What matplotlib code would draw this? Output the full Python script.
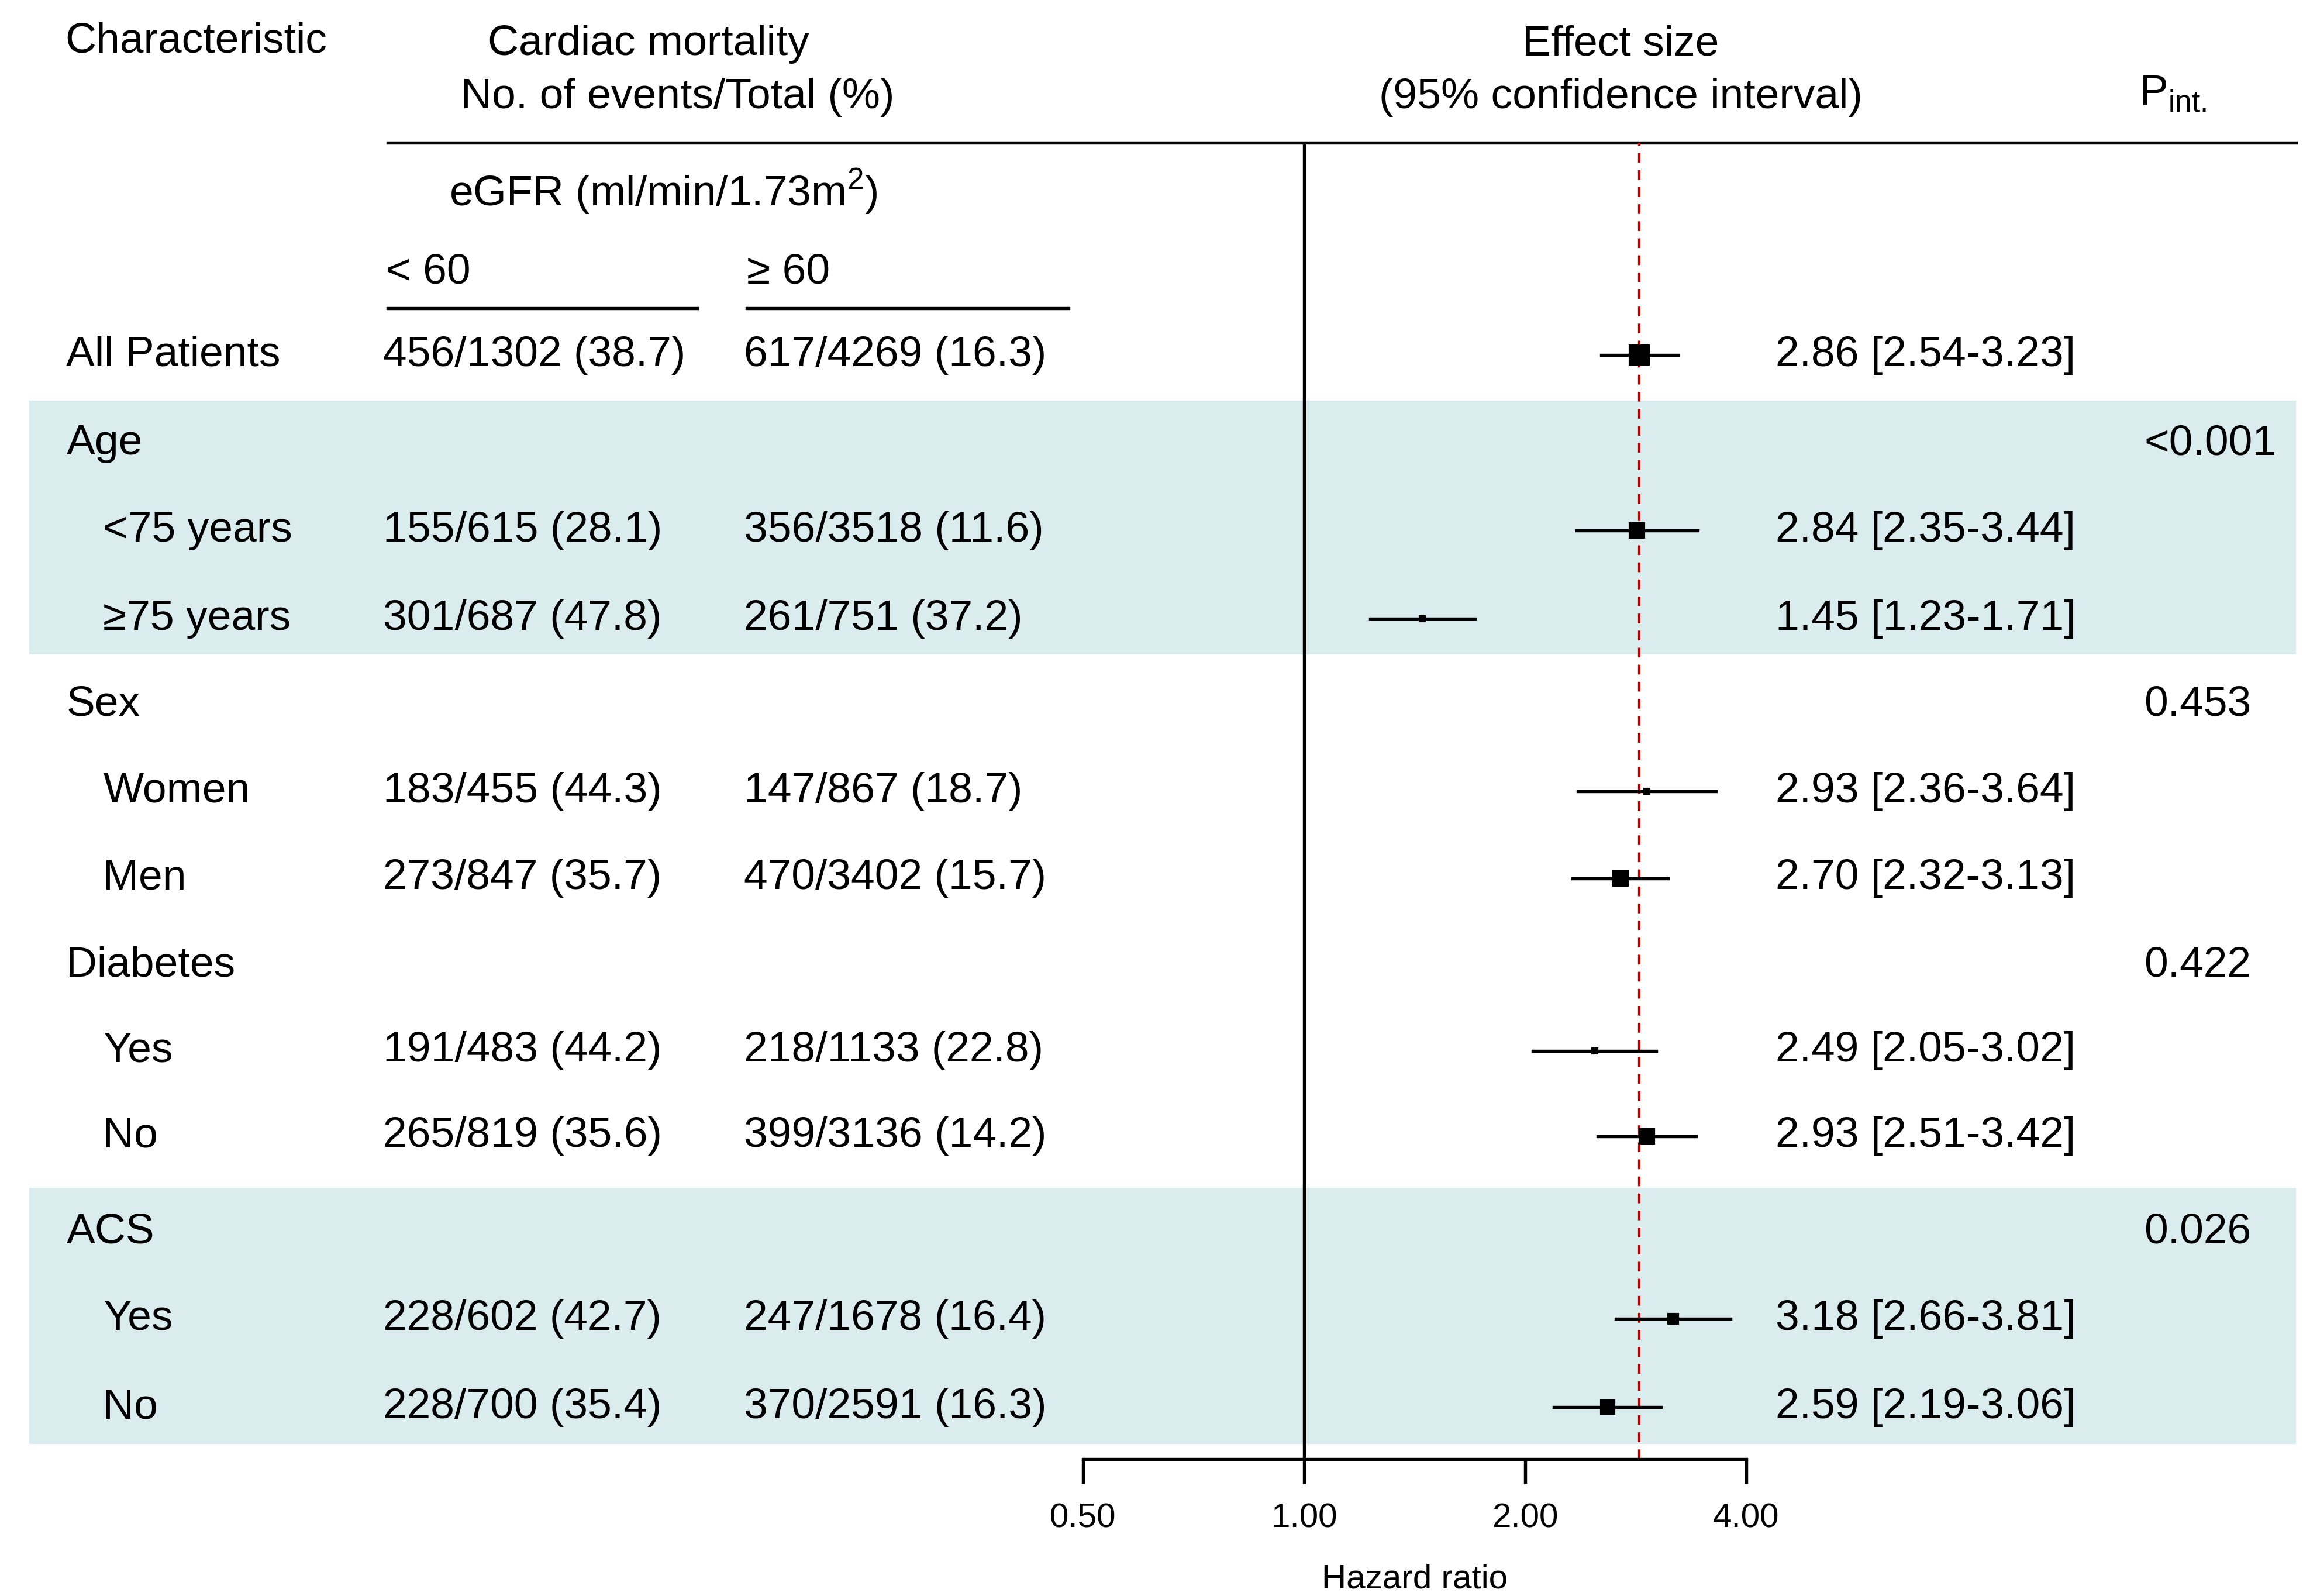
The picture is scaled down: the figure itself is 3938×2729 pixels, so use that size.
import numpy as np
import matplotlib
matplotlib.use("Agg")
import matplotlib.pyplot as plt

plt.rcParams["font.family"] = "Liberation Sans"

# rows of the table
labels = ["All Patients", "Age", "<75 years", "\u226575 years", "Sex", "Women", "Men",
          "Diabetes", "Yes", "No", "ACS", "Yes", "No"]
indent = [0, 0, 1, 1, 0, 1, 1, 0, 1, 1, 0, 1, 1]
low_egfr = ["456/1302 (38.7)", "", "155/615 (28.1)", "301/687 (47.8)", "", "183/455 (44.3)",
            "273/847 (35.7)", "", "191/483 (44.2)", "265/819 (35.6)", "", "228/602 (42.7)",
            "228/700 (35.4)"]
high_egfr = ["617/4269 (16.3)", "", "356/3518 (11.6)", "261/751 (37.2)", "", "147/867 (18.7)",
             "470/3402 (15.7)", "", "218/1133 (22.8)", "399/3136 (14.2)", "", "247/1678 (16.4)",
             "370/2591 (16.3)"]
hr = [2.86, None, 2.84, 1.45, None, 2.93, 2.70, None, 2.49, 2.93, None, 3.18, 2.59]
lo = [2.54, None, 2.35, 1.23, None, 2.36, 2.32, None, 2.05, 2.51, None, 2.66, 2.19]
hi = [3.23, None, 3.44, 1.71, None, 3.64, 3.13, None, 3.02, 3.42, None, 3.81, 3.06]
weight = [10, 0, 7, 1, 0, 1, 7, 0, 1, 7, 0, 4, 6]
p_int = ["", "<0.001", "", "", "0.453", "", "", "0.422", "", "", "0.026", "", ""]
row_y = [241, 301, 360, 420, 478, 537, 596, 655, 713, 771, 836, 895, 955]

W, H = 1563, 1083
fig = plt.figure(figsize=(13.127, 9.097), dpi=300)
ax = fig.add_axes([0, 0, 1, 1])
ax.set_xlim(0, W)
ax.set_ylim(H, 0)
ax.axis("off")

fs = 17.6
shade = "#daeced"
for y0, y1 in [(272, 444), (806, 980)]:
    ax.add_patch(plt.Rectangle((20, y0), 1538, y1 - y0, color=shade, lw=0, zorder=0))

# header
ax.text(44, 28, "Characteristic", fontsize=fs, va="center")
ax.text(440, 30, "Cardiac mortality", fontsize=fs, va="center", ha="center")
ax.text(460, 66, "No. of events/Total (%)", fontsize=fs, va="center", ha="center")
ax.text(1100, 30, "Effect size", fontsize=fs, va="center", ha="center")
ax.text(1100, 66, "(95% confidence interval)", fontsize=fs, va="center", ha="center")
ax.text(1452, 64, "P$_{\\mathregular{int.}}$", fontsize=fs, va="center")
ax.plot([263, 1558], [97, 97], color="black", lw=1.3)
ax.text(305, 130, "eGFR (ml/min/1.73m$^{\\mathregular{2}}$)", fontsize=fs, va="center")
ax.text(262, 185, "< 60", fontsize=fs, va="center")
ax.text(507, 185, "\u2265 60", fontsize=fs, va="center")
ax.plot([263, 473], [209, 209], color="black", lw=1.3)
ax.plot([507, 725], [209, 209], color="black", lw=1.3)

for i, y in enumerate(row_y):
    ax.text(45 + 25 * indent[i], y, labels[i], fontsize=fs, va="center")
    ax.text(260, y, low_egfr[i], fontsize=fs, va="center")
    ax.text(505, y, high_egfr[i], fontsize=fs, va="center")
    if hr[i] is not None:
        ax.text(1205, y, f"{hr[i]:.2f} [{lo[i]:.2f}-{hi[i]:.2f}]", fontsize=fs, va="center")
    ax.text(1455, y, p_int[i], fontsize=fs, va="center")

# forest panel
fx0, fx1, fy0, fy1 = 735, 1185, 97, 990
fax = fig.add_axes([fx0 / W, 1 - fy1 / H, (fx1 - fx0) / W, (fy1 - fy0) / H])
fax.patch.set_alpha(0)
fax.set_xscale("log")
fax.set_xlim(0.5, 4)
fax.set_ylim(fy1, fy0)
for s in ["top", "left", "right"]:
    fax.spines[s].set_visible(False)
fax.spines["bottom"].set_linewidth(1.3)
fax.set_yticks([])
fax.set_xticks([0.5, 1, 2, 4])
fax.set_xticklabels(["0.50", "1.00", "2.00", "4.00"], fontsize=14)
fax.minorticks_off()
fax.tick_params(axis="x", length=10, width=1.3, pad=8)
fax.set_xlabel("Hazard ratio", fontsize=14, labelpad=12)
fax.axvline(1, color="black", lw=1.3)
fax.axvline(hr[0], color="#c00000", lw=1, ls=(0, (4, 3)))
for i, y in enumerate(row_y):
    if hr[i] is None:
        continue
    fax.plot([lo[i], hi[i]], [y, y], color="black", lw=1.3)
    fax.plot(hr[i], y, marker="s", color="black", ms=1.5 + weight[i] * 0.6, lw=0)

fig.savefig("out.png", dpi=300)
